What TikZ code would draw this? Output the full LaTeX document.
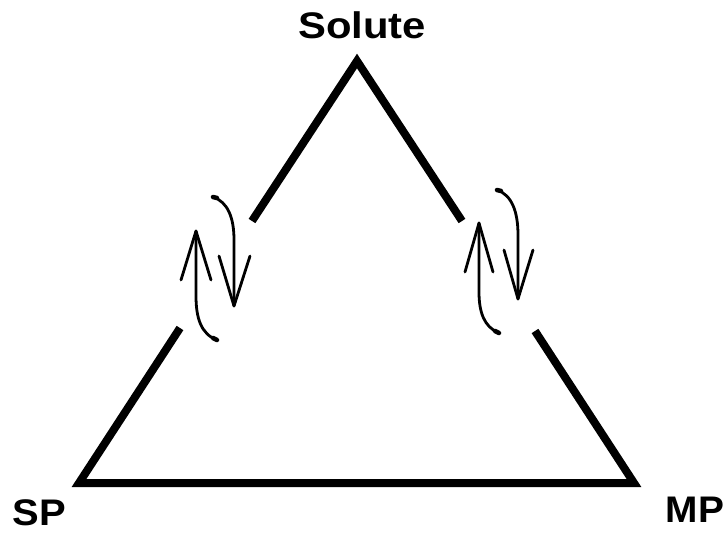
\documentclass[tikz,border=0pt]{standalone}
\usepackage{fontspec}
\setmainfont{Liberation Sans}
\begin{document}
\begin{tikzpicture}[x=1pt,y=-1pt,
  edge/.style={line width=8pt,line cap=butt,line join=miter},
  arr/.style={line width=2.8pt,line cap=round,line join=round},
  hook/.style={line width=4.5pt,line cap=round},
  lbl/.style={font=\bfseries\fontsize{37}{37}\selectfont,inner sep=0pt,anchor=base}]
\useasboundingbox (0,0) rectangle (728,533);
% vertices and gap ends
\coordinate (apex) at (357,61);
\coordinate (sp) at (79,483);
\coordinate (mp) at (634,483);
\coordinate (lgapT) at (252,221);
\coordinate (lgapB) at (180,328);
\coordinate (rgapT) at (462,221);
\coordinate (rgapB) at (535,331);
% triangle
\draw[edge] (lgapT) -- (apex) -- (rgapT);
\draw[edge] (lgapB) -- (sp) -- (mp) -- (rgapB);
% labels
\node[lbl] (solute) at (362,38) {\scalebox{1.13}[1]{Solute}};
\node[lbl] (splbl) at (39,525) {\scalebox{1.08}[1]{SP}};
\node[lbl] (mplbl) at (695,522) {\scalebox{1.05}[1]{MP}};
% left pair of arrows
\coordinate (luTip) at (196,231);
\coordinate (luEnd) at (217,340);
\draw[arr] (luEnd) .. controls (201,334) and (196,318) .. (196,296) -- (luTip);
\draw[hook] (luEnd) -- (213,338);
\coordinate (luA) at (181,280);
\coordinate (luB) at (211,280);
\draw[arr] (luA) -- (luTip) -- (luB);
\coordinate (ldStart) at (213,197);
\coordinate (ldTip) at (234,306);
\draw[arr] (ldStart) .. controls (228,202) and (234,218) .. (234,240) -- (ldTip);
\draw[hook] (ldStart) -- (217,198);
\coordinate (ldA) at (219,256);
\coordinate (ldB) at (250,256);
\draw[arr] (ldA) -- (ldTip) -- (ldB);
% right pair of arrows
\coordinate (ruTip) at (479,223);
\coordinate (ruEnd) at (499,333);
\draw[arr] (ruEnd) .. controls (484,327) and (479,312) .. (479,292) -- (ruTip);
\draw[hook] (ruEnd) -- (495,331);
\coordinate (ruA) at (465,272);
\coordinate (ruB) at (493,272);
\draw[arr] (ruA) -- (ruTip) -- (ruB);
\coordinate (rdStart) at (497,190);
\coordinate (rdTip) at (518,299);
\draw[arr] (rdStart) .. controls (512,195) and (518,212) .. (518,235) -- (rdTip);
\draw[hook] (rdStart) -- (501,191);
\coordinate (rdA) at (504,250);
\coordinate (rdB) at (533,250);
\draw[arr] (rdA) -- (rdTip) -- (rdB);
\end{tikzpicture}
\end{document}
